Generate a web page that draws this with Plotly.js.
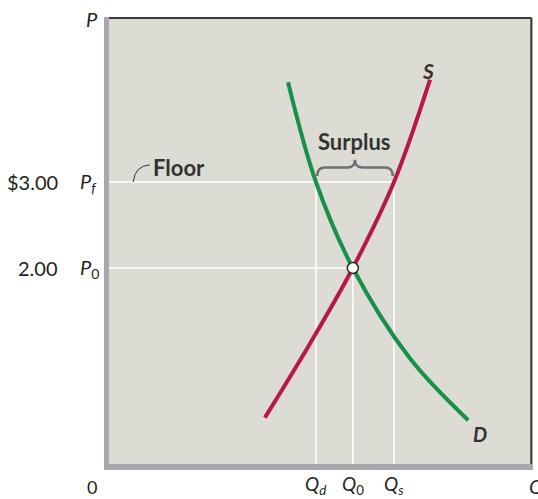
<!DOCTYPE html>
<html>
<head>
<meta charset="utf-8">
<script src="https://cdn.plot.ly/plotly-3.0.1.min.js"></script>
<style>html,body{margin:0;padding:0;background:#fff;}#chart{width:538px;height:499px;}</style>
</head>
<body>
<div id="chart"></div>
<script>
// ---- data ----
const demandQ = [4.29, 4.94, 5.80, 7.13, 8.49];
const demandP = [4.16, 3.00, 2.00, 0.95, 0.23];
const supplyQ = [3.75, 4.80, 5.80, 6.76, 7.60];
const supplyP = [0.26, 1.12, 2.00, 3.00, 4.19];
const priceFloor = 3.00;
const priceEq = 2.00;
const qDemanded = 4.94;
const qEq = 5.80;
const qSupplied = 6.76;
const priceTickLabels = ["$3.00", "2.00"];
const priceSymbols = ["<i>P<sub>f</sub></i>", "<i>P</i><sub>0</sub>"];
const qtyTickLabels = ["<i>Q<sub>d</sub></i>", "<i>Q</i><sub>0</sub>", "<i>Q<sub>s</sub></i>"];

const FONT = "Lato, 'Open Sans', sans-serif";
const TXT = "#231f20";
const GREEN = "#17904a";
const RED = "#b8174e";

const traces = [
  {x: demandQ, y: demandP, mode: "lines", line: {color: GREEN, width: 4, shape: "spline", smoothing: 1}, hoverinfo: "skip"},
  {x: supplyQ, y: supplyP, mode: "lines", line: {color: RED, width: 4, shape: "spline", smoothing: 1}, hoverinfo: "skip"},
  {x: [qEq], y: [priceEq], mode: "markers", marker: {color: "#ffffff", size: 11, line: {color: "#2b2b2b", width: 1.5}}, hoverinfo: "skip"}
];

const yMin = -0.349, yMax = 4.919;
const white = {color: "#ffffff", width: 1.5};
const shapes = [
  // guide lines
  {type: "line", xref: "x", yref: "y", x0: 0, x1: qSupplied, y0: priceFloor, y1: priceFloor, line: white, layer: "below"},
  {type: "line", xref: "x", yref: "y", x0: 0, x1: qEq, y0: priceEq, y1: priceEq, line: white, layer: "below"},
  {type: "line", xref: "x", yref: "y", x0: qDemanded, x1: qDemanded, y0: yMin, y1: priceFloor, line: white, layer: "below"},
  {type: "line", xref: "x", yref: "y", x0: qSupplied, x1: qSupplied, y0: yMin, y1: priceFloor, line: white, layer: "below"},
  {type: "line", xref: "x", yref: "y", x0: qEq, x1: qEq, y0: yMin, y1: priceEq, line: white, layer: "below"},
  // frame
  {type: "rect", xref: "paper", yref: "paper", x0: 0, x1: 0.0117, y0: 0, y1: 1, fillcolor: "#a7a8ac", line: {width: 0}},
  {type: "rect", xref: "paper", yref: "paper", x0: 0, x1: 1, y0: 0, y1: 0.0135, fillcolor: "#a7a8ac", line: {width: 0}},
  {type: "line", xref: "paper", yref: "paper", x0: 0.0117, x1: 0.996, y0: 0.998, y1: 0.998, line: {color: "#3a3a3a", width: 2}},
  {type: "line", xref: "paper", yref: "paper", x0: 0.996, x1: 0.996, y0: 0.0135, y1: 0.998, line: {color: "#3a3a3a", width: 2}},
  // surplus brace
  {type: "path", xref: "x", yref: "y",
   path: buildBrace(qDemanded + 0.03, qSupplied - 0.03, priceFloor + 0.07, priceFloor + 0.17, priceFloor + 0.26),
   line: {color: "#6e6f73", width: 2.5}},
  // floor leader
  {type: "path", xref: "x", yref: "y", path: "M 0.68,3.0 Q 0.72,3.19 1.07,3.2", line: {color: "#333333", width: 1}}
];

function buildBrace(x1, x2, yTip, yMid, yPeak) {
  const xm = (x1 + x2) / 2, r = 0.18;
  return `M ${x1},${yTip} Q ${x1},${yMid} ${x1 + r},${yMid} L ${xm - r},${yMid} Q ${xm},${yMid} ${xm},${yPeak} ` +
         `Q ${xm},${yMid} ${xm + r},${yMid} L ${x2 - r},${yMid} Q ${x2},${yMid} ${x2},${yTip}`;
}

const ann = [];
const priceVals = [priceFloor, priceEq];
priceVals.forEach((p, i) => {
  ann.push({xref: "paper", yref: "y", x: -0.1026, y: p, xanchor: "right", yanchor: "middle", text: priceTickLabels[i], showarrow: false, font: {family: FONT, size: 20, color: TXT}});
  ann.push({xref: "paper", yref: "y", x: -0.060, y: p, xanchor: "left", yanchor: "middle", text: priceSymbols[i], showarrow: false, font: {family: FONT, size: 20, color: TXT}});
});
[qDemanded, qEq, qSupplied].forEach((q, i) => {
  ann.push({xref: "x", yref: "paper", x: q, y: -0.033, xanchor: "center", yanchor: "middle", text: qtyTickLabels[i], showarrow: false, font: {family: FONT, size: 19, color: TXT}});
});
ann.push({xref: "paper", yref: "paper", x: -0.028, y: -0.038, text: "0", showarrow: false, xanchor: "center", yanchor: "middle", font: {family: FONT, size: 18, color: TXT}});
ann.push({xref: "paper", yref: "paper", x: 1.008, y: -0.036, text: "<i>Q</i>", showarrow: false, xanchor: "center", yanchor: "middle", font: {family: FONT, size: 20, color: TXT}});
ann.push({xref: "paper", yref: "paper", x: -0.028, y: 0.995, text: "<i>P</i>", showarrow: false, xanchor: "center", yanchor: "middle", font: {family: FONT, size: 20, color: TXT}});
ann.push({xref: "x", yref: "y", x: (qDemanded + qSupplied) / 2, y: priceFloor + 0.477, text: "<b>Surplus</b>", showarrow: false, xanchor: "center", yanchor: "middle", font: {family: FONT, size: 22, color: "#333333"}});
ann.push({xref: "x", yref: "y", x: 1.1, y: 3.174, text: "<b>Floor</b>", showarrow: false, xanchor: "left", yanchor: "middle", font: {family: FONT, size: 22, color: "#333333"}});
ann.push({xref: "x", yref: "y", x: supplyQ[4] - 0.04, y: 4.30, text: "<b><i>S</i></b>", showarrow: false, xanchor: "center", yanchor: "middle", font: {family: FONT, size: 21, color: "#333333"}});
ann.push({xref: "x", yref: "y", x: demandQ[4] + 0.27, y: 0.07, text: "<b><i>D</i></b>", showarrow: false, xanchor: "center", yanchor: "middle", font: {family: FONT, size: 20, color: "#333333"}});

const layout = {
  width: 538, height: 499,
  margin: {l: 104, r: 5, t: 17, b: 29, pad: 0},
  paper_bgcolor: "#ffffff",
  plot_bgcolor: "#dcdbd4",
  showlegend: false,
  xaxis: {range: [0, 10], showgrid: false, zeroline: false, showticklabels: false, ticks: "", showline: false, fixedrange: true},
  yaxis: {range: [yMin, yMax], showgrid: false, zeroline: false, showticklabels: false, ticks: "", showline: false, fixedrange: true},
  shapes: shapes,
  annotations: ann
};

Plotly.newPlot("chart", traces, layout, {staticPlot: true, displayModeBar: false});
</script>
</body>
</html>
